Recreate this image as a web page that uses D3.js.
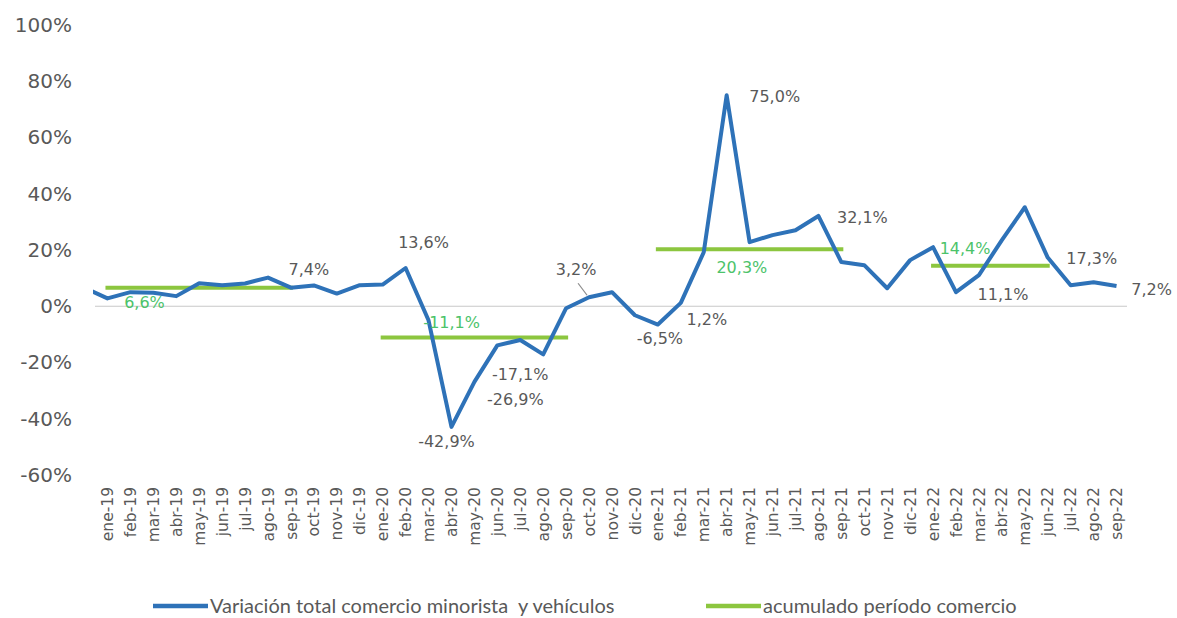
<!DOCTYPE html>
<html>
<head>
<meta charset="utf-8">
<script src="https://cdn.jsdelivr.net/npm/d3@7"></script>
<style>
  body { margin: 0; background: #fff; }
  svg { display: block; }
</style>
</head>
<body>
<div id="chart"></div>
<script>
// months on the category axis
const months = [
  'ene-19', 'feb-19', 'mar-19', 'abr-19', 'may-19', 'jun-19', 'jul-19', 'ago-19', 'sep-19', 'oct-19', 'nov-19', 'dic-19',
  'ene-20', 'feb-20', 'mar-20', 'abr-20', 'may-20', 'jun-20', 'jul-20', 'ago-20', 'sep-20', 'oct-20', 'nov-20', 'dic-20',
  'ene-21', 'feb-21', 'mar-21', 'abr-21', 'may-21', 'jun-21', 'jul-21', 'ago-21', 'sep-21', 'oct-21', 'nov-21', 'dic-21',
  'ene-22', 'feb-22', 'mar-22', 'abr-22', 'may-22', 'jun-22', 'jul-22', 'ago-22', 'sep-22'
];

// variación total comercio minorista y vehículos (%)
const totalChange = [
  2.8, 5.0, 4.8, 3.6, 8.2, 7.5, 8.1, 10.2, 6.6, 7.4, 4.5, 7.5,
  7.7, 13.6, -5.0, -42.9, -26.9, -13.9, -12.0, -17.1, -0.7, 3.2, 5.0, -3.2,
  -6.5, 1.2, 19.2, 75.0, 22.8, 25.3, 27.0, 32.1, 15.7, 14.6, 6.4, 16.4,
  21.0, 5.0, 11.1, 23.5, 35.2, 17.3, 7.5, 8.5, 7.2
];
// dic-18, the point before the first month (cut off by the plot edge)
const previousValue = 6.5;

// acumulado período comercio
const accStart = ['ene-19', 'ene-20', 'ene-21', 'ene-22'];
const accEnd = ['sep-19', 'sep-20', 'sep-21', 'jun-22'];
const accValue = [6.6, -11.1, 20.3, 14.4];

// months whose value is written on the chart
const labelledMonths = ['oct-19', 'feb-20', 'abr-20', 'may-20', 'ago-20', 'oct-20', 'ene-21', 'feb-21', 'abr-21', 'ago-21', 'mar-22', 'jun-22', 'sep-22'];

const yTicks = [-60, -40, -20, 0, 20, 40, 60, 80, 100];

const width = 1177, height = 618;
const blue = '#2e72b8', green = '#8cc63f', greenText = '#4cc36a', grey = '#595959';

const svg = d3.select('#chart').append('svg')
  .attr('width', width)
  .attr('height', height);

const x = d3.scaleBand().domain(months).range([96, 1128]);
const y = d3.scaleLinear().domain([-60, 100]).range([475, 25]);
const cx = m => x(m) + x.bandwidth() / 2;
// comma decimals and a plain hyphen for negatives, as in the original
const fmt = v => d3.format('.1f')(v).replace('.', ',').replace('\u2212', '-') + '%';

// y axis
const yAxis = svg.append('g')
  .attr('transform', 'translate(76,0)')
  .call(d3.axisLeft(y).tickValues(yTicks).tickSize(0).tickPadding(4).tickFormat(d => d + '%'));
yAxis.select('.domain').remove();
yAxis.selectAll('text')
  .attr('fill', grey)
  .style('font-family', 'DejaVu Sans')
  .style('font-size', '20px');

// zero line
svg.append('line')
  .attr('x1', 95).attr('x2', 1127)
  .attr('y1', y(0)).attr('y2', y(0))
  .attr('stroke', '#c8c8c8')
  .attr('stroke-width', 1.2);

// x axis labels
const xAxis = svg.append('g')
  .attr('transform', 'translate(0,480)')
  .call(d3.axisBottom(x).tickSize(0));
xAxis.select('.domain').remove();
xAxis.selectAll('text')
  .attr('transform', 'rotate(-90)')
  .attr('x', -7)
  .attr('y', 0)
  .attr('dy', '0.36em')
  .attr('text-anchor', 'end')
  .attr('fill', grey)
  .style('font-family', 'DejaVu Sans')
  .style('font-size', '15.5px');

// accumulated period segments
const accPeriods = accValue.map((v, i) => ({ start: accStart[i], end: accEnd[i], value: v }));
svg.selectAll('line.acc')
  .data(accPeriods)
  .enter()
  .append('line')
  .attr('class', 'acc')
  .attr('x1', d => cx(d.start) - 2)
  .attr('x2', d => cx(d.end) + 2)
  .attr('y1', d => y(d.value))
  .attr('y2', d => y(d.value))
  .attr('stroke', green)
  .attr('stroke-width', 4);

// blue line, clipped at the plot's left edge
svg.append('clipPath').attr('id', 'plotClip')
  .append('rect')
  .attr('x', 93).attr('y', 0)
  .attr('width', 1050).attr('height', height);

const points = [{ x: cx(months[0]) - x.step(), v: previousValue }]
  .concat(months.map((m, i) => ({ x: cx(m), v: totalChange[i] })));

const line = d3.line()
  .x(d => d.x)
  .y(d => y(d.v))
  .curve(d3.curveLinear);

svg.append('path')
  .datum(points)
  .attr('d', line)
  .attr('clip-path', 'url(#plotClip)')
  .attr('fill', 'none')
  .attr('stroke', blue)
  .attr('stroke-width', 4)
  .attr('stroke-linejoin', 'round');

// where each data label sits relative to its point
const labelPlace = {
  'oct-19': [-5, -10], 'feb-20': [18, -20], 'abr-20': [-5, 20], 'may-20': [41, 23],
  'ago-20': [-23, 26], 'oct-20': [-13, -22], 'ene-21': [2, 19], 'feb-21': [26, 22],
  'abr-21': [48, 7], 'ago-21': [44, 7], 'mar-22': [24, 25], 'jun-22': [44, 6], 'sep-22': [35, 9]
};

svg.selectAll('text.val')
  .data(labelledMonths)
  .enter()
  .append('text')
  .attr('class', 'val')
  .attr('x', m => cx(m) + labelPlace[m][0])
  .attr('y', m => y(totalChange[months.indexOf(m)]) + labelPlace[m][1])
  .attr('text-anchor', 'middle')
  .attr('fill', grey)
  .style('font-family', 'DejaVu Sans')
  .style('font-size', '16px')
  .text(m => fmt(totalChange[months.indexOf(m)]));

// leader line for oct-20
const oct20 = y(totalChange[months.indexOf('oct-20')]);
svg.append('line')
  .attr('x1', cx('oct-20') - 11).attr('y1', oct20 - 14)
  .attr('x2', cx('oct-20') - 2).attr('y2', oct20 - 2)
  .attr('stroke', '#8c8c8c')
  .attr('stroke-width', 1.2);

// accumulated labels
const accPlace = [[37, 20], [69, -9], [84, 24], [32, -12]];
svg.selectAll('text.acc')
  .data(accPeriods)
  .enter()
  .append('text')
  .attr('class', 'acc')
  .attr('x', (d, i) => cx(d.start) + accPlace[i][0])
  .attr('y', (d, i) => y(d.value) + accPlace[i][1])
  .attr('text-anchor', 'middle')
  .attr('fill', greenText)
  .style('font-family', 'DejaVu Sans')
  .style('font-size', '16px')
  .text(d => fmt(d.value));

// legend
const legend = [
  { name: 'Variación total comercio minorista  y vehículos', color: blue, x: 153 },
  { name: 'acumulado período comercio', color: green, x: 706 }
];
const lg = svg.selectAll('g.legend')
  .data(legend)
  .enter()
  .append('g')
  .attr('class', 'legend')
  .attr('transform', d => `translate(${d.x},606)`);
lg.append('line')
  .attr('x1', 0).attr('x2', 55)
  .attr('stroke', d => d.color)
  .attr('stroke-width', 4.5);
lg.append('text')
  .attr('x', 57)
  .attr('dy', '0.34em')
  .attr('fill', grey)
  .style('font-family', 'Lato')
  .style('font-size', '20px')
  .style('white-space', 'pre')
  .text(d => d.name);
</script>
</body>
</html>
